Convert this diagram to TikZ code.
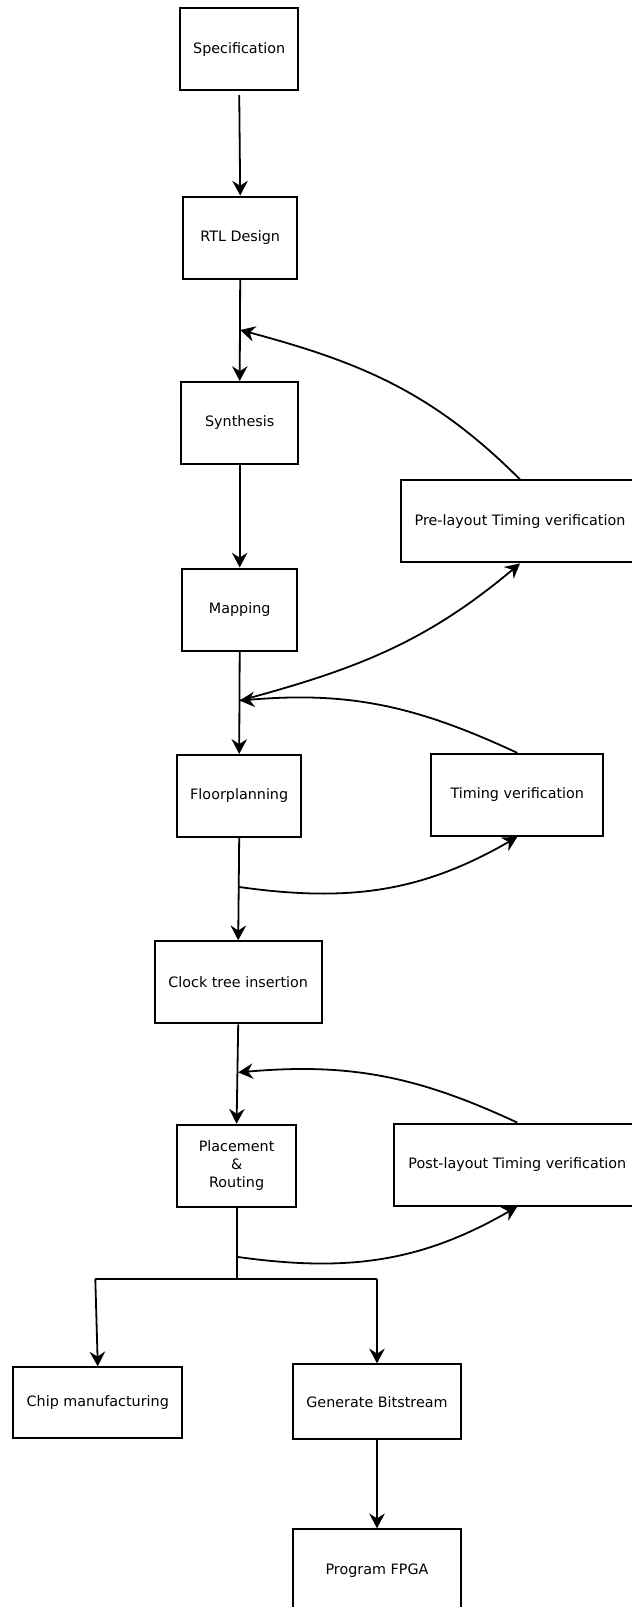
\documentclass[tikz,border=0pt]{standalone}
\usepackage{fontspec}
\setmainfont{DejaVu Sans}
\usetikzlibrary{arrows.meta}

\begin{document}
\begin{tikzpicture}[x=0.025cm,y=-0.025cm,every node/.style={draw,align=center,line width=0.5mm,inner sep=0pt,minimum height=2.05cm,font=\fontsize{10.2}{13}\selectfont}, >={Stealth[length=10.5pt,width=11pt,inset=3.5pt]}]
	\useasboundingbox (0,0) rectangle (632,1607);
	\node(spec)at(239.2,49.2)[minimum width=2.95cm]{Specification};
	\node(rtl)at(240.2,237.6)[minimum width=2.84cm]{RTL Design};
	\node(synth)at(239.7,423)[minimum width=2.92cm]{Synthesis};
	\node(map)at(239.7,609.5)[minimum width=2.87cm]{Mapping};
	\node(pre)at(520,521.4)[minimum width=5.93cm]{Pre-layout Timing verification};
	\node(floor)at(239.2,795.9)[minimum width=3.1cm]{Floorplanning};
	\node(tv)at(517.3,794.9)[minimum width=4.3cm]{Timing verification};
	\node(clock)at(238.2,982.3)[minimum width=4.18cm]{Clock tree insertion};
	\node(place)at(236.6,1165.7)[minimum width=2.97cm]{Placement\\\&\\Routing};
	\node(post)at(517.3,1164.6)[minimum width=6.15cm]{Post-layout Timing verification};
	\node(chip)at(97.8,1402.8)[minimum width=4.23cm,minimum height=1.77cm]{Chip manufacturing};
	\node(gen)at(377,1401.8)[minimum width=4.2cm,minimum height=1.87cm]{Generate Bitstream};
	\node(fpga)at(377,1570.3)[minimum width=4.2cm]{Program FPGA};
	\coordinate(j1)at(240.2,330);
	\coordinate(j2)at(239.7,700.6);
	\coordinate(j3)at(239.2,887);
	\coordinate(j4)at(238.2,1072.4);
	\coordinate(j5)at(236.6,1256.8);
	\coordinate(fork)at(236.6,1279);
	\coordinate(forkl)at(95.3,1279);
	\coordinate(forkr)at(377,1279);
	\draw[->,line width=0.45mm,shorten <=0.1cm](spec.south)--(rtl.north);
	\draw[->,line width=0.45mm](rtl.south)--(synth.north);
	\draw[->,line width=0.45mm](synth.south)--(map.north);
	\draw[->,line width=0.45mm](map.south)--(floor.north);
	\draw[->,line width=0.45mm](floor.south)--(clock.north);
	\draw[->,line width=0.45mm](clock.south)--(place.north);
	\draw[->,line width=0.45mm](pre.north)to[out=135,in=-15](j1);
	\draw[->,line width=0.45mm](j2)to[out=15,in=-140](pre.south);
	\draw[->,line width=0.45mm](tv.north)to[out=155,in=5](j2);
	\draw[->,line width=0.45mm](j3)to[out=-8,in=-150](tv.south);
	\draw[->,line width=0.45mm](post.north)to[out=155,in=5](j4);
	\draw[->,line width=0.45mm](j5)to[out=-8,in=-150](post.south);
	\draw[line width=0.45mm](place.south)--(fork);
	\draw[line width=0.45mm](forkl)--(forkr);
	\draw[->,line width=0.45mm](forkl)--(chip.north);
	\draw[->,line width=0.45mm](forkr)--(gen.north);
	\draw[->,line width=0.45mm](gen.south)--(fpga.north);
\end{tikzpicture}
\end{document}
